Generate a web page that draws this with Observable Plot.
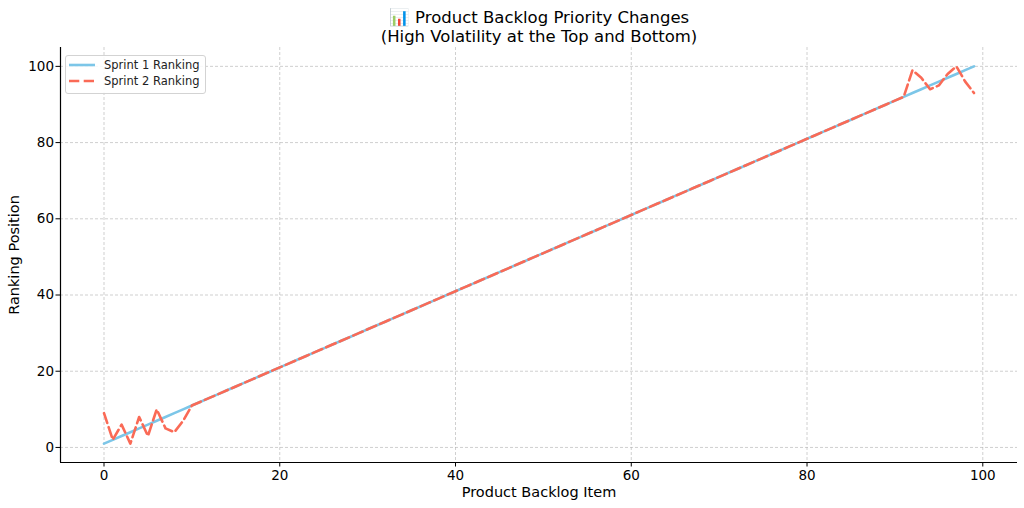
<!DOCTYPE html>
<html>
<head>
<meta charset="utf-8">
<script src="https://cdn.jsdelivr.net/npm/d3@7"></script>
<script src="https://cdn.jsdelivr.net/npm/@observablehq/plot@0.6"></script>
<style>
  html, body { margin: 0; padding: 0; background: #fff; overflow: hidden; }
  #wrap { position: relative; width: 1024px; height: 508px; font-family: "DejaVu Sans", sans-serif; }
  #legend { position: absolute; left: 65px; top: 55px; width: 139px; height: 37px;
            border: 1px solid #d3d3d3; border-radius: 3px; background: rgba(255,255,255,0.85);
            font-size: 11.5px; color: #222; }
  .row { position: absolute; left: 3px; height: 14px; display: flex; align-items: center; }
  .row span { margin-left: 9px; }
</style>
</head>
<body>
<div id="wrap">
  <div id="chart"></div>
  <div id="legend"></div>
</div>
<script>
const titleLines = ["\u{1F4CA} Product Backlog Priority Changes", "(High Volatility at the Top and Bottom)"];
const xLabel = "Product Backlog Item";
const yLabel = "Ranking Position";
const seriesNames = ["Sprint 1 Ranking", "Sprint 2 Ranking"];
const seriesColors = ["#7cc6e8", "#fa6a56"];
const xTicks = [0, 20, 40, 60, 80, 100];
const yTicks = [0, 20, 40, 60, 80, 100];

const items = [0,1,2,3,4,5,6,7,8,9,10,11,12,13,14,15,16,17,18,19,20,21,22,23,24,25,26,27,28,29,30,31,32,33,34,35,36,37,38,39,40,41,42,43,44,45,46,47,48,49,50,51,52,53,54,55,56,57,58,59,60,61,62,63,64,65,66,67,68,69,70,71,72,73,74,75,76,77,78,79,80,81,82,83,84,85,86,87,88,89,90,91,92,93,94,95,96,97,98,99];
const sprint1 = [1,2,3,4,5,6,7,8,9,10,11,12,13,14,15,16,17,18,19,20,21,22,23,24,25,26,27,28,29,30,31,32,33,34,35,36,37,38,39,40,41,42,43,44,45,46,47,48,49,50,51,52,53,54,55,56,57,58,59,60,61,62,63,64,65,66,67,68,69,70,71,72,73,74,75,76,77,78,79,80,81,82,83,84,85,86,87,88,89,90,91,92,93,94,95,96,97,98,99,100];
const sprint2 = [9,2,6,1,8,3,10,5,4,7,11,12,13,14,15,16,17,18,19,20,21,22,23,24,25,26,27,28,29,30,31,32,33,34,35,36,37,38,39,40,41,42,43,44,45,46,47,48,49,50,51,52,53,54,55,56,57,58,59,60,61,62,63,64,65,66,67,68,69,70,71,72,73,74,75,76,77,78,79,80,81,82,83,84,85,86,87,88,89,90,91,92,99,97,94,95,98,100,96,93];

const xDomain = [-4.95, 103.95];
const yDomain = [-3.95, 104.95];

const s1 = items.map((x, i) => ({x, y: sprint1[i]}));
const s2 = items.map((x, i) => ({x, y: sprint2[i]}));

const gridStyle = {stroke: "#b0b0b0", strokeOpacity: 0.75, strokeDasharray: "3,2", strokeWidth: 0.8};
const dash = "10.3,4.4";

const plot = Plot.plot({
  width: 1024,
  height: 508,
  marginLeft: 60,
  marginRight: 7,
  marginTop: 47,
  marginBottom: 46,
  style: {fontFamily: "DejaVu Sans, sans-serif", color: "#000", background: "#fff"},
  x: {domain: xDomain},
  y: {domain: yDomain},
  marks: [
    Plot.gridX(xTicks, gridStyle),
    Plot.gridY(yTicks, gridStyle),
    Plot.axisX(xTicks, {tickSize: 4.5, tickPadding: 3, fontSize: 13.5, label: xLabel, labelAnchor: "center", labelArrow: "none", labelOffset: 34, tickFormat: d => String(d)}),
    Plot.axisY(yTicks, {tickSize: 4.5, tickPadding: 2, fontSize: 13.5, label: yLabel, labelAnchor: "center", labelArrow: "none", labelOffset: 52, tickFormat: d => String(d)}),
    Plot.ruleX([xDomain[0]], {stroke: "#000", strokeWidth: 1.2}),
    Plot.ruleY([yDomain[0]], {stroke: "#000", strokeWidth: 1.2}),
    Plot.line(s1, {x: "x", y: "y", stroke: seriesColors[0], strokeWidth: 2.6}),
    Plot.line(s2, {x: "x", y: "y", stroke: seriesColors[1], strokeWidth: 2.6, strokeDasharray: dash}),
    Plot.text([titleLines[0]], {text: d => d, frameAnchor: "top", dy: -36, fontSize: 16.5, fill: "#000"}),
    Plot.text([titleLines[1]], {text: d => d, frameAnchor: "top", dy: -17, fontSize: 16.5, fill: "#000"})
  ]
});
d3.select(plot).selectAll("g[aria-label='x-axis label'] text, g[aria-label='y-axis label'] text").style("font-size", "14.5px");
document.getElementById("chart").appendChild(plot);

const legend = document.getElementById("legend");
seriesNames.forEach((name, i) => {
  const row = document.createElement("div");
  row.className = "row";
  row.style.top = (i === 0 ? 2 : 18) + "px";
  row.innerHTML = `<svg width="26" height="6"><line x1="0" x2="26" y1="3" y2="3" stroke="${seriesColors[i]}" stroke-width="2.6" ${i === 1 ? `stroke-dasharray="${dash}"` : ''}/></svg><span>${name}</span>`;
  legend.appendChild(row);
});
</script>
</body>
</html>
